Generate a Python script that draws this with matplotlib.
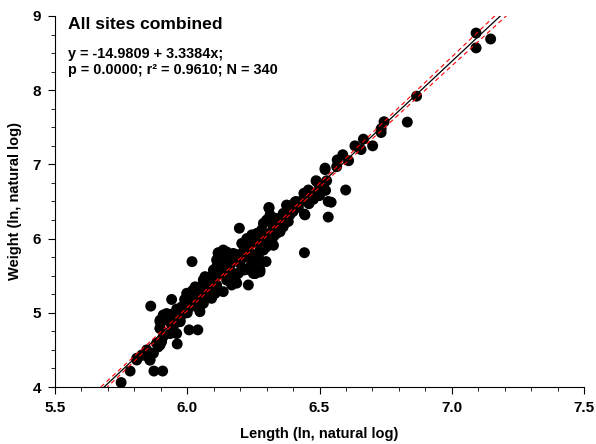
import numpy as np
import matplotlib
matplotlib.use("Agg")
import matplotlib.pyplot as plt
from matplotlib.ticker import MultipleLocator

plt.rcParams['font.family'] = ['Liberation Sans', 'DejaVu Sans']
plt.rcParams['font.weight'] = 'bold'

# ln(length), ln(weight) for every fish, all sites pooled
length_ln = [
    # large fish
    7.092, 7.092, 7.147, 6.867, 6.832, 6.744, 6.733, 6.733, 6.666, 6.634,
    6.657, 6.701, 6.588, 6.567, 6.610, 6.521, 6.565, 6.599, 6.521, 6.487,
    6.527, 6.499, 6.523, 6.441, 6.477, 6.544, 6.533, 6.443, 6.411, 6.376,
    6.400, 6.309, 6.443, 6.197, 6.018, 6.231, 6.298, 6.275, 6.218,
    # small fish / outliers
    5.750, 5.784, 5.874, 5.907, 5.862, 5.941, 5.962, 5.897, 6.007, 6.040,
    6.250,
    # lower part of the cloud
    5.809, 5.853, 5.859, 5.828, 5.849, 5.890, 5.903, 5.897, 5.897, 5.916,
    5.922, 5.941, 5.973, 5.985, 5.979, 6.004, 6.010, 6.004, 6.048, 6.048,
    6.061, 6.073, 6.086, 6.061, 6.055, 6.105, 6.092, 6.111, 6.124, 6.143,
    6.162, 6.168, 6.155, 6.181, 6.187, 6.117, 6.149, 6.187,
    # middle of the cloud
    6.061, 6.067, 6.086, 6.099, 6.117, 6.143, 6.124, 6.136, 6.155, 6.174,
    6.187, 6.206, 6.225, 6.244, 6.263, 6.256, 6.275, 6.250, 6.269, 6.237,
    6.288, 6.281, 6.313, 6.326, 6.351, 6.338, 6.313, 6.326, 6.300, 6.275,
    6.269, 6.309, 6.363, 6.376, 6.388, 6.400, 6.382, 6.363, 6.351, 6.407,
    6.433, 6.445, 6.445, 6.458, 6.477, 6.489, 6.514, 6.533,
    5.998, 6.036, 6.048, 6.074, 6.067, 6.092, 6.111, 6.136, 6.124, 6.149,
    6.117, 6.136, 6.155, 6.174, 6.193, 6.199, 6.193, 6.181, 6.168, 6.212,
    6.225, 6.244, 6.250, 6.263, 6.300, 6.313, 6.332, 6.338, 6.351, 6.326,
    6.313, 6.288, 6.269, 6.250, 6.237, 6.256, 6.212,
    5.809, 5.834, 5.859, 5.847, 5.884, 5.872, 5.909, 5.897, 5.897, 5.909,
    5.922, 5.935, 5.947, 5.960, 5.935, 5.973, 5.985, 5.979, 5.998, 6.010,
    6.023, 6.036, 6.048, 6.061, 6.073, 6.086, 6.099, 6.111, 6.124, 6.136,
    6.149, 6.162, 6.174, 6.149, 6.111, 6.086, 6.061, 6.048,
    # packed core along the line
    6.020, 6.030, 6.050, 6.080, 6.100, 6.130, 6.160, 6.200, 6.220, 6.240,
    6.270, 6.290, 6.320, 6.340, 6.370, 6.390, 6.420, 6.460, 6.500, 6.470,
    5.950, 5.960, 5.940, 5.990, 6.000,
]
weight_ln = [
    8.770, 8.570, 8.690, 7.920, 7.570, 7.575, 7.480, 7.430, 7.340, 7.250,
    7.200, 7.250, 7.130, 7.060, 7.050, 6.950, 6.970, 6.655, 6.930, 6.780,
    6.780, 6.690, 6.650, 6.610, 6.530, 6.490, 6.290, 6.330, 6.500, 6.450,
    6.385, 6.420, 5.810, 6.140, 5.690, 5.375, 5.690, 5.580, 5.580,
    4.060, 4.215, 4.215, 4.215, 5.090, 5.180, 4.580, 4.566, 4.770, 4.770,
    5.530,
    4.387, 4.410, 4.364, 4.430, 4.477, 4.540, 4.610, 4.790, 4.880, 4.970,
    4.900, 4.840, 4.880, 4.990, 5.060, 5.060, 5.260, 5.170, 5.015, 5.105,
    5.170, 5.400, 5.440, 5.420, 5.350, 5.260, 5.195, 5.620, 5.670, 5.710,
    5.640, 5.530, 5.440, 5.490, 5.400, 5.800, 5.820, 5.755,
    5.440, 5.375, 5.465, 5.400, 5.810, 5.810, 5.620, 5.690, 5.730, 5.760,
    5.780, 5.935, 6.000, 6.050, 6.070, 5.530, 5.550, 5.670, 5.710, 5.580,
    6.206, 6.116, 6.250, 6.160, 6.116, 6.070, 5.980, 5.910, 5.890, 5.846,
    5.935, 6.410, 6.340, 6.450, 6.320, 6.365, 6.230, 6.160, 6.275, 6.490,
    6.510, 6.320, 6.610, 6.655, 6.570, 6.770, 6.700, 6.500,
    5.263, 5.217, 5.330, 5.420, 5.487, 5.440, 5.375, 5.285, 5.530, 5.620,
    5.667, 5.756, 5.734, 5.800, 5.780, 5.667, 5.532, 5.440, 5.375, 5.823,
    5.890, 5.935, 5.980, 6.050, 6.250, 6.318, 6.275, 6.160, 6.093, 6.026,
    5.935, 5.846, 5.756, 5.667, 5.620, 5.530, 5.577,
    4.364, 4.430, 4.364, 4.500, 4.590, 4.455, 4.680, 4.790, 4.900, 4.970,
    4.990, 4.900, 4.810, 4.720, 4.720, 4.900, 4.990, 5.080, 5.128, 5.263,
    5.170, 5.080, 5.217, 5.440, 5.350, 5.487, 5.577, 5.712, 5.800, 5.846,
    5.756, 5.667, 5.532, 5.440, 5.350, 5.263, 5.128, 5.080,
    5.300, 5.350, 5.280, 5.330, 5.500, 5.580, 5.580, 5.720, 5.750, 5.800,
    5.950, 6.020, 6.100, 6.220, 6.300, 6.420, 6.420, 6.470, 6.580, 6.620,
    4.950, 5.050, 4.980, 5.180, 5.000,
]

intercept = -14.9809
slope = 3.3384
p_value = 0.0000
r_squared = 0.9610
n_fish = 340

x = np.array(length_ln)
y = np.array(weight_ln)

# 95% confidence band around the fitted line; residual spread taken from r^2
x_mean = x.mean()
var_x = x.var()
s_res = np.sqrt(slope ** 2 * var_x * (1.0 / r_squared - 1.0))
sxx = n_fish * var_x
x_fit = np.linspace(5.5, 7.5, 400)
y_fit = intercept + slope * x_fit
half_width = 1.967 * s_res * np.sqrt(1.0 / n_fish + (x_fit - x_mean) ** 2 / sxx)

fig = plt.figure(figsize=(5.96, 4.44), dpi=100)
ax = fig.add_axes([55 / 596, 1 - 387 / 444, 529 / 596, 371 / 444])

ax.scatter(x, y, s=62, color='black', edgecolors='none', zorder=3, clip_on=False)
ax.plot(x_fit, y_fit, color='black', linewidth=0.9, zorder=4)
ax.plot(x_fit, y_fit + half_width, color='red', linewidth=0.8,
        linestyle=(0, (4, 3)), zorder=4)
ax.plot(x_fit, y_fit - half_width, color='red', linewidth=0.8,
        linestyle=(0, (4, 3)), zorder=4)

ax.set_xlim(5.5, 7.5)
ax.set_ylim(4, 9)
ax.xaxis.set_major_locator(MultipleLocator(0.5))
ax.xaxis.set_minor_locator(MultipleLocator(0.1))
ax.yaxis.set_major_locator(MultipleLocator(1))
ax.yaxis.set_minor_locator(MultipleLocator(0.25))
ax.xaxis.set_major_formatter(plt.FormatStrFormatter('%.1f'))

for side in ('top', 'right'):
    ax.spines[side].set_visible(False)
for side in ('left', 'bottom'):
    ax.spines[side].set_linewidth(0.8)

ax.tick_params(which='major', direction='out', length=5, width=0.8,
               labelsize=11, pad=5)
ax.tick_params(which='minor', direction='out', length=3, width=0.6)

ax.set_xlabel('Length (ln, natural log)', fontsize=10.5, fontweight='bold', labelpad=9)
ax.set_ylabel('Weight (ln, natural log)', fontsize=10.5, fontweight='bold', labelpad=8)

ax.text(0.025, 0.978, 'All sites combined', transform=ax.transAxes,
        fontsize=12.6, fontweight='bold', va='center', ha='left')
ax.text(0.025, 0.898, f'y = {intercept:.4f} + {slope:.4f}x;', transform=ax.transAxes,
        fontsize=10.4, fontweight='bold', va='center', ha='left')
ax.text(0.025, 0.855, f'p = {p_value:.4f}; r\u00b2 = {r_squared:.4f}; N = {n_fish}',
        transform=ax.transAxes, fontsize=10.4, fontweight='bold', va='center', ha='left')

plt.savefig('out.png', dpi=100)
plt.close()
